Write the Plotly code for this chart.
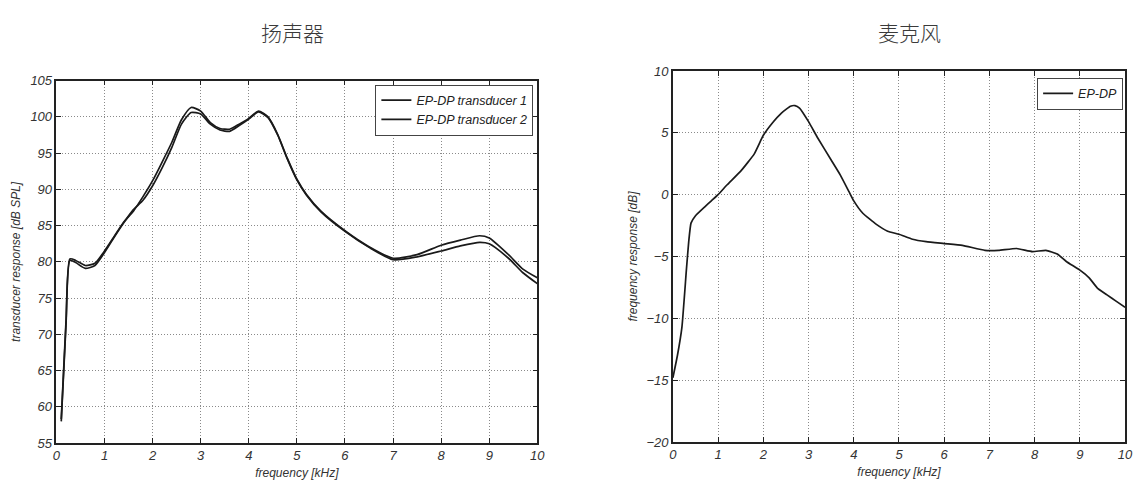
import plotly.graph_objects as go

# ---- loudspeaker: transducer response [dB SPL] vs frequency [kHz] ----
spk_freq = [0.1, 0.2, 0.28, 0.4, 0.6, 0.8, 1.0, 1.2, 1.4, 1.6, 1.8, 2.0, 2.2, 2.4,
            2.6, 2.8, 3.0, 3.2, 3.4, 3.6, 3.8, 4.0, 4.2, 4.4, 4.6, 4.8, 5.0, 5.2,
            5.5, 6.0, 6.5, 7.0, 7.5, 8.0, 8.4, 8.8, 9.0, 9.4, 9.7, 10.0]
spk_t1 = [58.3, 72.0, 80.4, 80.2, 79.5, 79.8, 81.5, 83.5, 85.5, 87.0, 89.0, 91.2,
          93.8, 96.5, 99.6, 101.3, 100.8, 99.2, 98.4, 98.3, 99.0, 99.8, 100.8,
          100.0, 97.6, 94.3, 91.4, 89.3, 87.0, 84.3, 82.1, 80.5, 81.0, 82.3,
          83.0, 83.6, 83.3, 81.0, 79.0, 77.8]
spk_t2 = [58.0, 71.5, 80.2, 79.9, 79.1, 79.5, 81.3, 83.4, 85.4, 87.2, 88.5, 90.5,
          93.0, 95.8, 99.0, 100.6, 100.4, 99.0, 98.2, 98.0, 98.8, 99.7, 100.7,
          99.9, 97.5, 94.2, 91.3, 89.2, 86.9, 84.2, 82.0, 80.3, 80.7, 81.5,
          82.2, 82.7, 82.5, 80.5, 78.5, 77.0]

# ---- microphone: frequency response [dB] vs frequency [kHz] ----
mic_freq = [0.0, 0.1, 0.2, 0.3, 0.35, 0.4, 0.5, 0.7, 0.85, 1.0, 1.2, 1.5, 1.8,
            2.0, 2.2, 2.4, 2.6, 2.7, 2.8, 3.0, 3.2, 3.5, 3.7, 3.9, 4.0, 4.2,
            4.5, 4.75, 5.0, 5.3, 5.6, 6.0, 6.4, 6.9, 7.2, 7.6, 7.95, 8.25, 8.5,
            8.7, 9.0, 9.2, 9.4, 9.6, 9.8, 10.0]
mic_resp = [-14.8, -13.0, -10.7, -6.0, -3.8, -2.3, -1.7, -1.0, -0.5, 0.0, 0.8,
            1.9, 3.3, 4.8, 5.8, 6.6, 7.15, 7.2, 7.0, 5.9, 4.6, 2.8, 1.6, 0.2,
            -0.5, -1.5, -2.4, -2.95, -3.2, -3.6, -3.8, -3.95, -4.1, -4.5, -4.5,
            -4.35, -4.6, -4.5, -4.8, -5.4, -6.1, -6.7, -7.6, -8.1, -8.6, -9.1]

freq_ticks = list(range(0, 11))
spk_ticks = list(range(55, 106, 5))
mic_ticks = list(range(-20, 11, 5))

W, H = 1142, 485
SANS = "Liberation Sans, Arial, sans-serif"
TICK_FONT = dict(family=SANS, size=13, color="#333333", style="italic")
LABEL_FONT = dict(family=SANS, size=12, color="#333333", style="italic")
LEGEND_FONT = dict(family=SANS, size=12.5, color="#222222", style="italic")
TITLE_FONT = dict(family="Noto Sans CJK SC", size=21, color="#3a3a3a", weight=300)

fig = go.Figure()

line_style = dict(color="#1a1a1a", width=1.7, shape="spline", smoothing=0.6)
fig.add_trace(go.Scatter(x=spk_freq, y=spk_t1, mode="lines", name="EP-DP transducer 1",
                         line=line_style, xaxis="x", yaxis="y", legend="legend"))
fig.add_trace(go.Scatter(x=spk_freq, y=spk_t2, mode="lines", name="EP-DP transducer 2",
                         line=line_style, xaxis="x", yaxis="y", legend="legend"))
fig.add_trace(go.Scatter(x=mic_freq, y=mic_resp, mode="lines", name="EP-DP",
                         line=dict(color="#1a1a1a", width=1.7, shape="spline", smoothing=0.4),
                         xaxis="x2", yaxis="y2", legend="legend2"))


def axis(domain, rng, ticks, anchor, title=None, standoff=None):
    ax = dict(
        domain=domain, range=rng, tickvals=ticks, anchor=anchor,
        showline=True, linecolor="#222222", linewidth=1.5, mirror="ticks",
        ticks="inside", ticklen=5, tickcolor="#222222", tickwidth=1,
        showgrid=True, gridcolor="#8a8a8a", griddash="1px,2px", gridwidth=1,
        zeroline=False, tickfont=TICK_FONT,
    )
    if title:
        ax["title"] = dict(text=title, font=LABEL_FONT, standoff=standoff)
    return ax


fig.update_layout(
    width=W, height=H,
    margin=dict(l=0, r=0, t=0, b=0),
    paper_bgcolor="white", plot_bgcolor="white",
    xaxis=axis([53 / W, 539 / W], [0, 10], freq_ticks, "y", "frequency [kHz]", 6),
    yaxis=axis([1 - 450 / H, 1 - 76 / H], [55, 105], spk_ticks, "x",
               "transducer response [dB SPL]", 7),
    xaxis2=axis([676 / W, 1133 / W], [0, 10], freq_ticks, "y2", "frequency [kHz]", 6),
    yaxis2=axis([1 - 449 / H, 1 - 66 / H], [-20, 10], mic_ticks, "x2",
                "frequency response [dB]", 6),
    legend=dict(x=535 / W, y=1 - 80 / H, xanchor="right", yanchor="top",
                bgcolor="white", bordercolor="#444444", borderwidth=1,
                font=LEGEND_FONT, itemwidth=30, tracegroupgap=0),
    legend2=dict(x=1131 / W, y=1 - 73 / H, xanchor="right", yanchor="top",
                 bgcolor="white", bordercolor="#444444", borderwidth=1,
                 font=LEGEND_FONT, itemwidth=30),
    showlegend=True,
    annotations=[
        dict(text="扬声器", x=292 / W, y=1 - 26 / H, xref="paper", yref="paper",
             showarrow=False, xanchor="center", yanchor="middle", font=TITLE_FONT),
        dict(text="麦克风", x=915 / W, y=1 - 26 / H, xref="paper", yref="paper",
             showarrow=False, xanchor="center", yanchor="middle", font=TITLE_FONT),
    ],
)

fig.write_html("out.html")
